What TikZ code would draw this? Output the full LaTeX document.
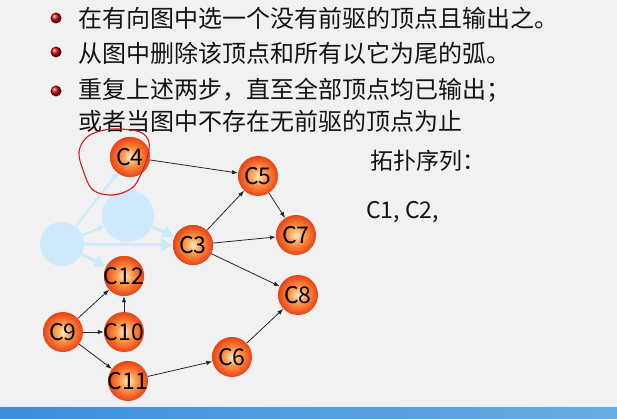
\documentclass[tikz,border=0pt]{standalone}
\usepackage{fontspec}
\setmainfont{Noto Sans CJK SC}
\usetikzlibrary{arrows.meta}

\definecolor{pagebg}{RGB}{241,241,241}
\definecolor{ghost}{RGB}{206,234,250}
\definecolor{edgecol}{RGB}{40,40,40}
\definecolor{pen}{RGB}{215,25,35}
\definecolor{barleft}{RGB}{58,142,220}
\definecolor{barright}{RGB}{104,172,228}
\definecolor{orbin}{RGB}{255,236,190}
\definecolor{orbmid}{RGB}{252,150,70}
\definecolor{orbout}{RGB}{240,88,32}
\definecolor{orbrim}{RGB}{226,70,25}

\pgfdeclareradialshading{orb}{\pgfpoint{0bp}{0bp}}{%
  color(0bp)=(orbin); color(11bp)=(orbmid); color(21bp)=(orbout);
  color(25bp)=(orbrim); color(50bp)=(orbrim)}

\tikzset{
  vertex/.style={circle, inner sep=0pt, minimum size=40pt, shading=orb,
    font=\fontsize{23}{25}\selectfont, text=black},
  ghostnode/.style={circle, fill=ghost, inner sep=0pt},
  ghostarc/.style={draw=ghost, line width=3pt,
    -{Triangle[width=12pt,length=12pt]}},
  thinghost/.style={ghostarc, line width=2.2pt,
    -{Triangle[width=7pt,length=6pt]}},
  arc/.style={draw=edgecol, line width=0.8pt,
    -{Latex[length=6pt,width=4.5pt]}},
  bullet/.style={circle, inner sep=0pt, minimum size=11pt,
    shading=ball, ball color=red!75!black},
  item/.style={anchor=west, inner sep=0pt,
    font=\fontsize{24}{26}\selectfont, text=black!92},
  side/.style={anchor=west, inner sep=0pt,
    font=\fontsize{23}{25}\selectfont, text=black!92},
}

\newcommand{\vlabel}[1]{\makebox[0pt]{#1}}

\begin{document}
\begin{tikzpicture}[x=1pt, y=-1pt]
  \useasboundingbox (0,0) rectangle (617,419);
  \fill[pagebg] (0,0) rectangle (617,419);

  % footer bar
  \shade[left color=barleft, right color=barright] (0,407) rectangle (617,419);
  \draw[white!85!barleft, line width=0.8pt] (0,406.6) -- (617,406.6);

  % bullet list
  \node[bullet] (b1) at (56,18) {};
  \node[bullet] (b2) at (56,52) {};
  \node[bullet] (b3) at (56,91) {};
  \node[item] (t1) at (78,18) {在有向图中选一个没有前驱的顶点且输出之。};
  \node[item] (t2) at (78,53) {从图中删除该顶点和所有以它为尾的弧。};
  \node[item] (t3) at (78,90) {重复上述两步，直至全部顶点均已输出；};
  \node[item] (t4) at (78,121) {或者当图中不存在无前驱的顶点为止};

  % output so far
  \node[side] (seqtitle) at (370,161) {拓扑序列：};
  \node[side] (seq) at (366,212) {C1, C2,};

  % vertices already removed (faded)
  \node[ghostnode, minimum size=44pt] (g1) at (62,244) {};
  \node[ghostnode, minimum size=52pt] (g2) at (128,216) {};

  % remaining vertices
  \node[vertex] (c4)  at (130,157) {\vlabel{C4}};
  \node[vertex] (c5)  at (258,176) {\vlabel{C5}};
  \node[vertex] (c7)  at (296,235) {\vlabel{C7}};
  \node[vertex] (c3)  at (193,245) {\vlabel{C3}};
  \node[vertex] (c8)  at (298,295) {\vlabel{C8}};
  \node[vertex] (c12) at (124,276) {\vlabel{C12}};
  \node[vertex] (c9)  at (63,332)  {\vlabel{C9}};
  \node[vertex] (c10) at (124,332) {\vlabel{C10}};
  \node[vertex] (c11) at (128,381) {\vlabel{C11}};
  \node[vertex] (c6)  at (232,357) {\vlabel{C6}};

  % faded arcs of removed vertices
  \path[thinghost] (g1) -- (c4);
  \path[thinghost] (g1) -- (g2);
  \path[ghostarc] (g2) -- (c3);
  \path[ghostarc] (g1) -- (c3);
  \path[ghostarc] (g1) -- (c12);

  % redraw vertices touched by faded arcs so they stay on top
  \node[vertex] at (c4)  {\vlabel{C4}};
  \node[vertex] at (c3)  {\vlabel{C3}};
  \node[vertex] at (c12) {\vlabel{C12}};

  % arcs
  \path[arc] (c4) -- (c5);
  \path[arc] (c3) -- (c5);
  \path[arc] (c5) -- (c7);
  \path[arc] (c3) -- (c7);
  \path[arc] (c3) -- (c8);
  \path[arc] (c6) -- (c8);
  \path[arc] (c11) -- (c6);
  \path[arc] (c9) -- (c12);
  \path[arc] (c9) -- (c10);
  \path[arc] (c9) -- (c11);
  \path[arc] (c10) -- (c12);

  % hand-drawn mark around C4
  \draw[pen, line width=1.1pt] plot[smooth cycle, tension=0.6] coordinates {
    (118,129) (140,132) (149,142) (147,158) (141,174) (132,188)
    (113,195) (93,190) (83,170) (79,152) (86,138) (100,131)};
\end{tikzpicture}
\end{document}
